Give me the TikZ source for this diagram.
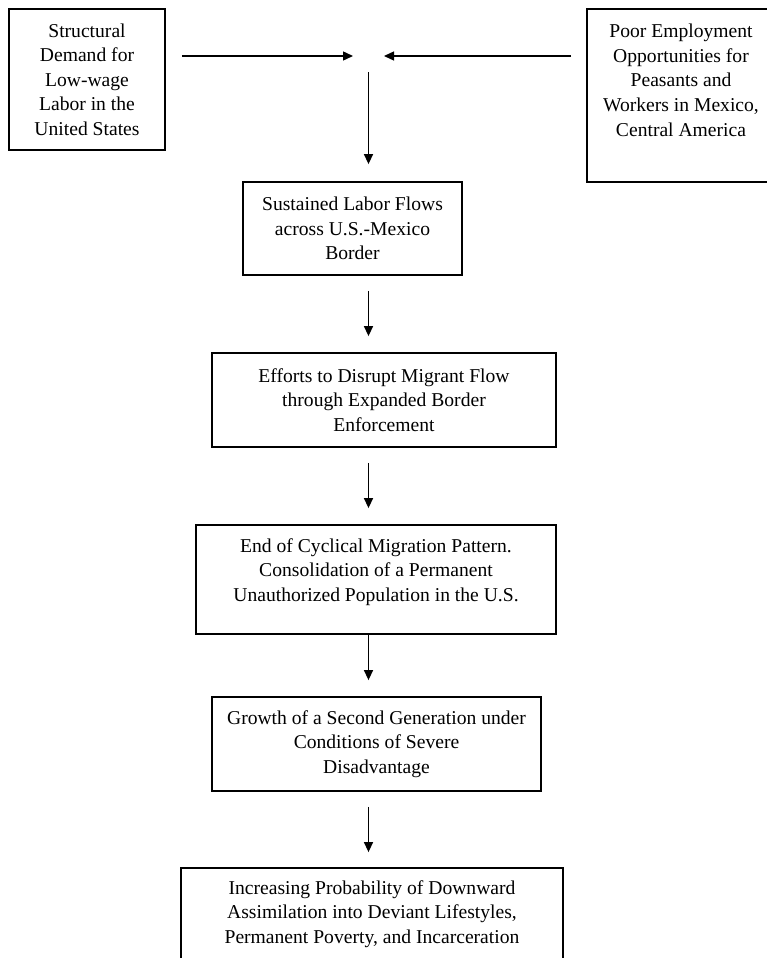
\documentclass[tikz,border=0pt]{standalone}
\usepackage{fontspec}
\setmainfont{Liberation Serif}
\usetikzlibrary{arrows.meta, positioning}

\tikzset{
  stage/.style={draw, line width=0.9pt, align=center, inner sep=2pt},
  flow/.style={-{Triangle[length=5pt, width=4.5pt]}, line width=0.7pt},
}

\begin{document}
\begin{tikzpicture}[x=0.5pt, y=-0.5pt, font=\fontsize{9.8}{12.3}\selectfont]
\useasboundingbox (0,0) rectangle (766,958);

\node[stage, minimum width=78pt, minimum height=70.5pt] (demand) at (87,79.5)
  {Structural\\Demand for\\Low-wage\\Labor in the\\United States};
\node[stage, minimum width=94pt, minimum height=86.5pt] (poor) at (681,95.5)
  {Poor Employment\\Opportunities for\\Peasants and\\Workers in Mexico,\\Central America\rule[-15.5pt]{0pt}{0pt}};
\coordinate (meet) at (368.5,56);

\node[stage, minimum width=109.5pt, minimum height=46.5pt] (flows) at (352.5,228.5)
  {Sustained Labor Flows\\across U.S.-Mexico\\Border};
\node[stage, minimum width=172pt, minimum height=47pt] (border) at (384,400)
  {Efforts to Disrupt Migrant Flow\\through Expanded Border\\Enforcement};
\node[stage, minimum width=180pt, minimum height=54.5pt] (settle) at (376,579.5)
  {End of Cyclical Migration Pattern.\\Consolidation of a Permanent\\Unauthorized Population in the U.S.\rule[-9.5pt]{0pt}{0pt}};
\node[stage, minimum width=164.5pt, minimum height=47pt] (second) at (376.5,744)
  {Growth of a Second Generation under\\Conditions of Severe\\Disadvantage};
\node[stage, minimum width=191pt, minimum height=46pt] (assim) at (372,914)
  {Increasing Probability of Downward\\Assimilation into Deviant Lifestyles,\\Permanent Poverty, and Incarceration};

\draw[flow, shorten <=8pt, shorten >=7.75pt] (demand.east |- meet) -- (meet);
\draw[flow, shorten <=7.5pt, shorten >=7.75pt] (poor.west |- meet) -- (meet);
\draw[flow, shorten <=8pt, shorten >=8.5pt] (meet) -- (flows.north -| meet);

\draw[flow, shorten <=7.5pt, shorten >=8pt] (flows.south -| meet) -- (border.north -| meet);
\draw[flow, shorten <=7.5pt, shorten >=8pt] (border.south -| meet) -- (settle.north -| meet);
\draw[flow, shorten >=8pt] (settle.south -| meet) -- (second.north -| meet);
\draw[flow, shorten <=7.5pt, shorten >=7.5pt] (second.south -| meet) -- (assim.north -| meet);
\end{tikzpicture}
\end{document}
